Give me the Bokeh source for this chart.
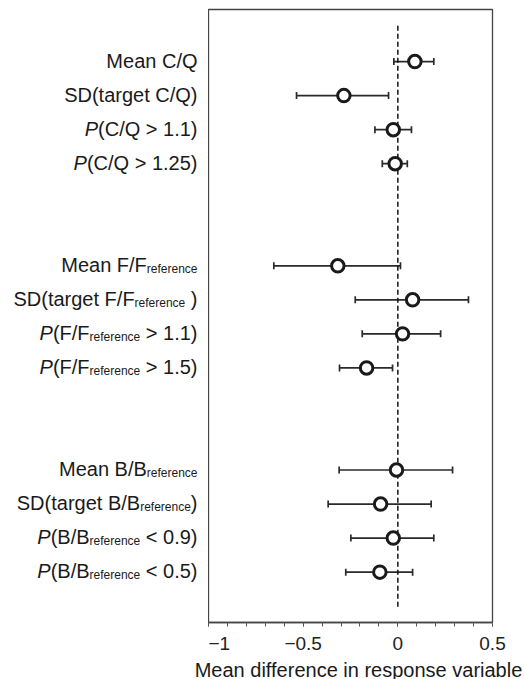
from bokeh.plotting import figure
from bokeh.models import Range1d, FixedTicker, Whisker, TeeHead, ColumnDataSource
from bokeh.layouts import row as brow, column as bcol
from bokeh.core.properties import value
from bokeh.embed import file_html
from bokeh.resources import INLINE

# ---------------- data ----------------
label_parts = [
    [("Mean C/Q", "n")],
    [("SD(target C/Q)", "n")],
    [("P", "i"), ("(C/Q > 1.1)", "n")],
    [("P", "i"), ("(C/Q > 1.25)", "n")],
    [("Mean F/F", "n"), ("reference", "s")],
    [("SD(target F/F", "n"), ("reference", "s"), (" )", "n")],
    [("P", "i"), ("(F/F", "n"), ("reference", "s"), (" > 1.1)", "n")],
    [("P", "i"), ("(F/F", "n"), ("reference", "s"), (" > 1.5)", "n")],
    [("Mean B/B", "n"), ("reference", "s")],
    [("SD(target B/B", "n"), ("reference", "s"), (")", "n")],
    [("P", "i"), ("(B/B", "n"), ("reference", "s"), (" < 0.9)", "n")],
    [("P", "i"), ("(B/B", "n"), ("reference", "s"), (" < 0.5)", "n")],
]
group_sizes = [4, 4, 4]
mean_diff = [0.09, -0.285, -0.024, -0.014,
             -0.317, 0.078, 0.025, -0.165,
             -0.007, -0.091, -0.024, -0.095]
lower = [-0.021, -0.535, -0.121, -0.082,
         -0.655, -0.225, -0.188, -0.308,
         -0.31, -0.368, -0.248, -0.275]
upper = [0.19, -0.049, 0.072, 0.05,
         0.014, 0.373, 0.226, -0.028,
         0.289, 0.176, 0.19, 0.078]
x_ticks = [-1, -0.5, 0, 0.5]
x_tick_labels = ["\u22121", "\u22120.5", "0", "0.5"]
x_minor_ticks = [-1.0, -0.9, -0.8, -0.7, -0.6, -0.5, -0.4, -0.3, -0.2, -0.1,
                 0.0, 0.1, 0.2, 0.3, 0.4, 0.5]
x_title = "Mean difference in response variable"

# ---------------- layout ----------------
GAP_ROWS = 2
rows = []
r = 0
for g in group_sizes:
    for _ in range(g):
        rows.append(r)
        r += 1
    r += GAP_ROWS

FONT = "Liberation Sans"
LEFT_W = 208
FRAME_W, FRAME_H = 284, 613
TOP, BOTTOM, RIGHT = 9, 36, 32
TITLE_H = 21
y_top, y_bot = -1.53, rows[-1] + 1.48
PX_ROW = FRAME_H / (y_bot - y_top)
yr = Range1d(y_bot, y_top)

# ---------------- main plot ----------------
p = figure(frame_width=FRAME_W, frame_height=FRAME_H,
           x_range=Range1d(x_ticks[0], x_ticks[-1]), y_range=yr,
           y_axis_location=None, toolbar_location=None,
           output_backend="svg")
p.min_border_left = 0
p.min_border_right = RIGHT
p.min_border_top = TOP
p.min_border_bottom = BOTTOM
p.grid.visible = False
p.outline_line_color = "#444444"
p.outline_line_width = 1.3
p.background_fill_color = "white"
p.border_fill_color = "white"

ax = p.xaxis[0]
ax.ticker = FixedTicker(ticks=x_ticks, minor_ticks=x_minor_ticks)
ax.major_label_overrides = {float(t): l for t, l in zip(x_ticks, x_tick_labels)}
ax.major_tick_in = 0
ax.major_tick_out = 4
ax.minor_tick_in = 0
ax.minor_tick_out = 4
ax.major_tick_line_color = "#555555"
ax.minor_tick_line_color = "#555555"
ax.axis_line_color = "#444444"
ax.axis_line_width = 1.3
ax.major_label_text_font = FONT
ax.major_label_text_font_size = "19px"
ax.major_label_text_color = "#222222"
ax.major_label_standoff = 10

# dashed reference line at zero
p.segment(x0=[0], y0=[rows[0] - 1.05], x1=[0], y1=[rows[-1] + 1.05],
          line_color="#111111", line_width=1.5, line_dash="5 3")

src = ColumnDataSource(dict(row=rows, m=mean_diff, lo=lower, hi=upper))
wh = Whisker(base="row", lower="lo", upper="hi", dimension="width", source=src,
             line_color="#2a2a2a", line_width=1.7,
             lower_head=TeeHead(size=7, line_color="#2a2a2a", line_width=1.7),
             upper_head=TeeHead(size=7, line_color="#2a2a2a", line_width=1.7))
p.add_layout(wh)
p.scatter(x="m", y="row", source=src, marker="circle", size=12.5,
          fill_color="white", line_color="#1a1a1a", line_width=3)

# ---------------- left label panel ----------------
lp = figure(frame_width=LEFT_W, frame_height=FRAME_H,
            x_range=Range1d(0, LEFT_W), y_range=yr,
            x_axis_location=None, y_axis_location=None,
            toolbar_location=None, output_backend="svg")
lp.min_border_left = 0
lp.min_border_right = 0
lp.min_border_top = TOP
lp.min_border_bottom = BOTTOM
lp.grid.visible = False
lp.outline_line_color = None
lp.background_fill_color = "white"
lp.border_fill_color = "white"

# Arial / Liberation Sans advance widths (per 1000 em)
W = {' ': 278, '(': 333, ')': 333, '.': 278, '/': 278, '<': 584, '>': 584,
     'B': 667, 'C': 722, 'D': 722, 'F': 611, 'M': 833, 'P': 667, 'Q': 778,
     'S': 667, 'a': 556, 'c': 500, 'e': 556, 'f': 278, 'g': 556, 'n': 556,
     'r': 333, 't': 278}
for d in "0123456789":
    W[d] = 556


def tw(s, size):
    return sum(W.get(c, 556) for c in s) / 1000.0 * size


MAIN, SUB = 20, 12
RIGHT_EDGE = LEFT_W - 11
BASE_DY = -1.0   # baseline shift (px) relative to row centre
SUB_DY = 4.0     # extra drop of subscripts (px)
pieces = {"n": dict(x=[], y=[], t=[]), "i": dict(x=[], y=[], t=[]),
          "s": dict(x=[], y=[], t=[])}
for parts, rw in zip(label_parts, rows):
    xpos = float(RIGHT_EDGE)
    for text, kind in reversed(parts):
        size = SUB if kind == "s" else MAIN
        dy = (BASE_DY + (SUB_DY if kind == "s" else 0.0)) / PX_ROW
        pieces[kind]["x"].append(xpos)
        pieces[kind]["y"].append(rw + dy)
        pieces[kind]["t"].append(text.lstrip())
        xpos -= tw(text, size)

for kind, d in pieces.items():
    lp.text(x="x", y="y", text="t", source=ColumnDataSource(d),
            text_align="right", text_baseline="alphabetic",
            text_font=value(FONT),
            text_font_size=value(f"{SUB if kind == 's' else MAIN}px"),
            text_font_style="italic" if kind == "i" else "normal",
            text_color="#1a1a1a")

# ---------------- bottom title panel ----------------
TOTAL_W = LEFT_W + FRAME_W + RIGHT
tp = figure(frame_width=TOTAL_W, frame_height=TITLE_H,
            x_range=Range1d(0, TOTAL_W), y_range=Range1d(TITLE_H, 0),
            x_axis_location=None, y_axis_location=None,
            toolbar_location=None, output_backend="svg")
tp.min_border = 0
tp.grid.visible = False
tp.outline_line_color = None
tp.background_fill_color = "white"
tp.border_fill_color = "white"
tp.text(x=[LEFT_W + FRAME_W / 2 + 8], y=[11], text=[x_title],
        text_align="center", text_baseline="alphabetic",
        text_font=value(FONT), text_font_size=value("20px"),
        text_color="#1a1a1a")

layout = bcol(brow(lp, p, spacing=0), tp, spacing=0)
open("out.html", "w").write(file_html(layout, INLINE))
